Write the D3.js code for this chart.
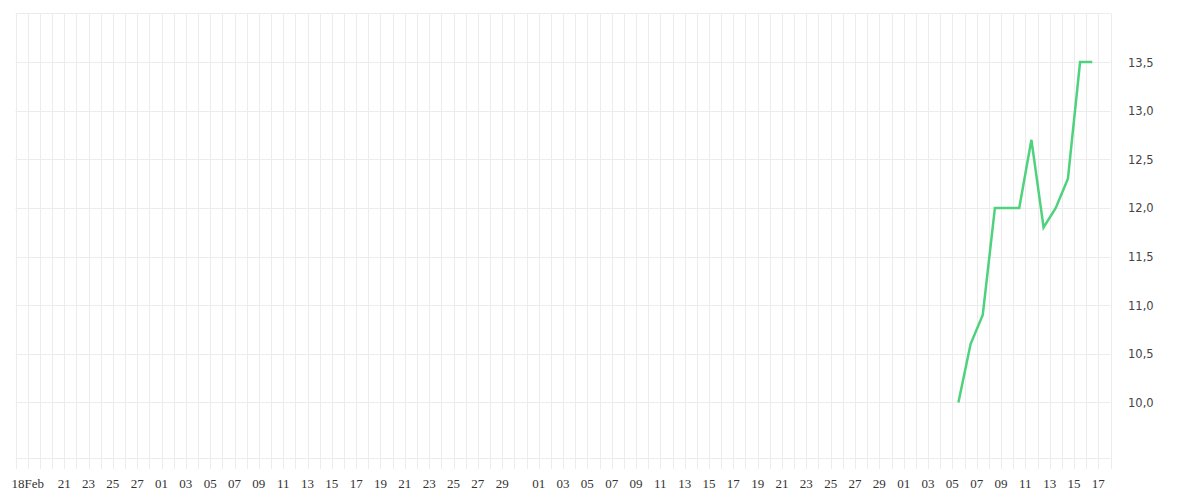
<!DOCTYPE html>
<html>
<head>
<meta charset="utf-8">
<script src="https://cdn.jsdelivr.net/npm/d3@7"></script>
<style>
  html, body { margin: 0; padding: 0; background: #fff; }
  svg { display: block; }
</style>
</head>
<body>
<script>
// ---- data ----
const dates = ["2021-05-05","2021-05-06","2021-05-07","2021-05-08","2021-05-09","2021-05-10",
               "2021-05-11","2021-05-12","2021-05-13","2021-05-14","2021-05-15","2021-05-16"];
const values = [10.0, 10.6, 10.9, 12.0, 12.0, 12.0, 12.7, 11.8, 12.0, 12.3, 13.5, 13.5];
const xTickDates = ["2021-02-18","2021-02-21","2021-02-23","2021-02-25","2021-02-27",
  "2021-03-01","2021-03-03","2021-03-05","2021-03-07","2021-03-09","2021-03-11","2021-03-13","2021-03-15",
  "2021-03-17","2021-03-19","2021-03-21","2021-03-23","2021-03-25","2021-03-27","2021-03-29",
  "2021-04-01","2021-04-03","2021-04-05","2021-04-07","2021-04-09","2021-04-11","2021-04-13","2021-04-15",
  "2021-04-17","2021-04-19","2021-04-21","2021-04-23","2021-04-25","2021-04-27","2021-04-29",
  "2021-05-01","2021-05-03","2021-05-05","2021-05-07","2021-05-09","2021-05-11","2021-05-13","2021-05-15","2021-05-17"];
const yTicks = [10.0, 10.5, 11.0, 11.5, 12.0, 12.5, 13.0, 13.5];
const yGrid = [10.0, 10.5, 11.0, 11.5, 12.0, 12.5, 13.0, 13.5, 14.0];
const domainStart = "2021-02-17";
const domainEnd = "2021-05-18";

// ---- chart ----
const W = 1200, H = 500;
const svg = d3.select("body").append("svg").attr("width", W).attr("height", H);

const parse = d3.utcParse("%Y-%m-%d");
const x = d3.scaleUtc().domain([parse(domainStart), parse(domainEnd)]).range([15.5, 1110.5]);
const y = d3.scaleLinear().domain([9.4253, 14]).range([458.3, 13.4]);
const plotTop = y(14);

const loc = d3.formatLocale({decimal: ",", thousands: ".", grouping: [3], currency: ["", "€"]});
const fmt = loc.format(".1f");

// vertical day grid lines (extend below plot as ticks)
const days = d3.utcDay.range(parse(domainStart), d3.utcDay.offset(parse(domainEnd), 1));
svg.append("g").selectAll("line").data(days).join("line")
  .attr("x1", d => Math.round(x(d)) + 0.5).attr("x2", d => Math.round(x(d)) + 0.5)
  .attr("y1", plotTop).attr("y2", 469)
  .attr("stroke", "#ececec").attr("stroke-width", 1);

// horizontal grid lines
svg.append("g").selectAll("line").data(yGrid.concat([y.domain()[0]])).join("line")
  .attr("x1", 15.5).attr("x2", 1110.5)
  .attr("y1", d => Math.round(y(d)) + 0.5).attr("y2", d => Math.round(y(d)) + 0.5)
  .attr("stroke", "#ececec").attr("stroke-width", 1);

// x labels
const xt = xTickDates.map(parse);
svg.append("g").selectAll("text").data(xt).join("text")
  .attr("x", d => x(d)).attr("y", 488)
  .attr("text-anchor", "middle")
  .attr("font-family", "'Liberation Serif', 'DejaVu Serif', serif")
  .attr("font-size", 13).attr("fill", "#333")
  .text((d, i) => i === 0 ? d3.utcFormat("%d")(d) + "Feb" : d3.utcFormat("%d")(d));

// y labels (right)
svg.append("g").selectAll("text").data(yTicks).join("text")
  .attr("x", 1128).attr("y", d => y(d) + 4.5)
  .attr("text-anchor", "start")
  .attr("font-family", "'DejaVu Sans', sans-serif")
  .attr("font-size", 11.5).attr("fill", "#444")
  .text(d => fmt(d));

// line (points at mid-day)
const pts = dates.map((d, i) => ({t: d3.utcHour.offset(parse(d), 12), v: values[i]}));
const line = d3.line().x(d => x(d.t)).y(d => y(d.v));
svg.append("path").datum(pts)
  .attr("d", line)
  .attr("fill", "none")
  .attr("stroke", "#4fd27d")
  .attr("stroke-width", 2.5)
  .attr("stroke-linejoin", "miter");
</script>
</body>
</html>
